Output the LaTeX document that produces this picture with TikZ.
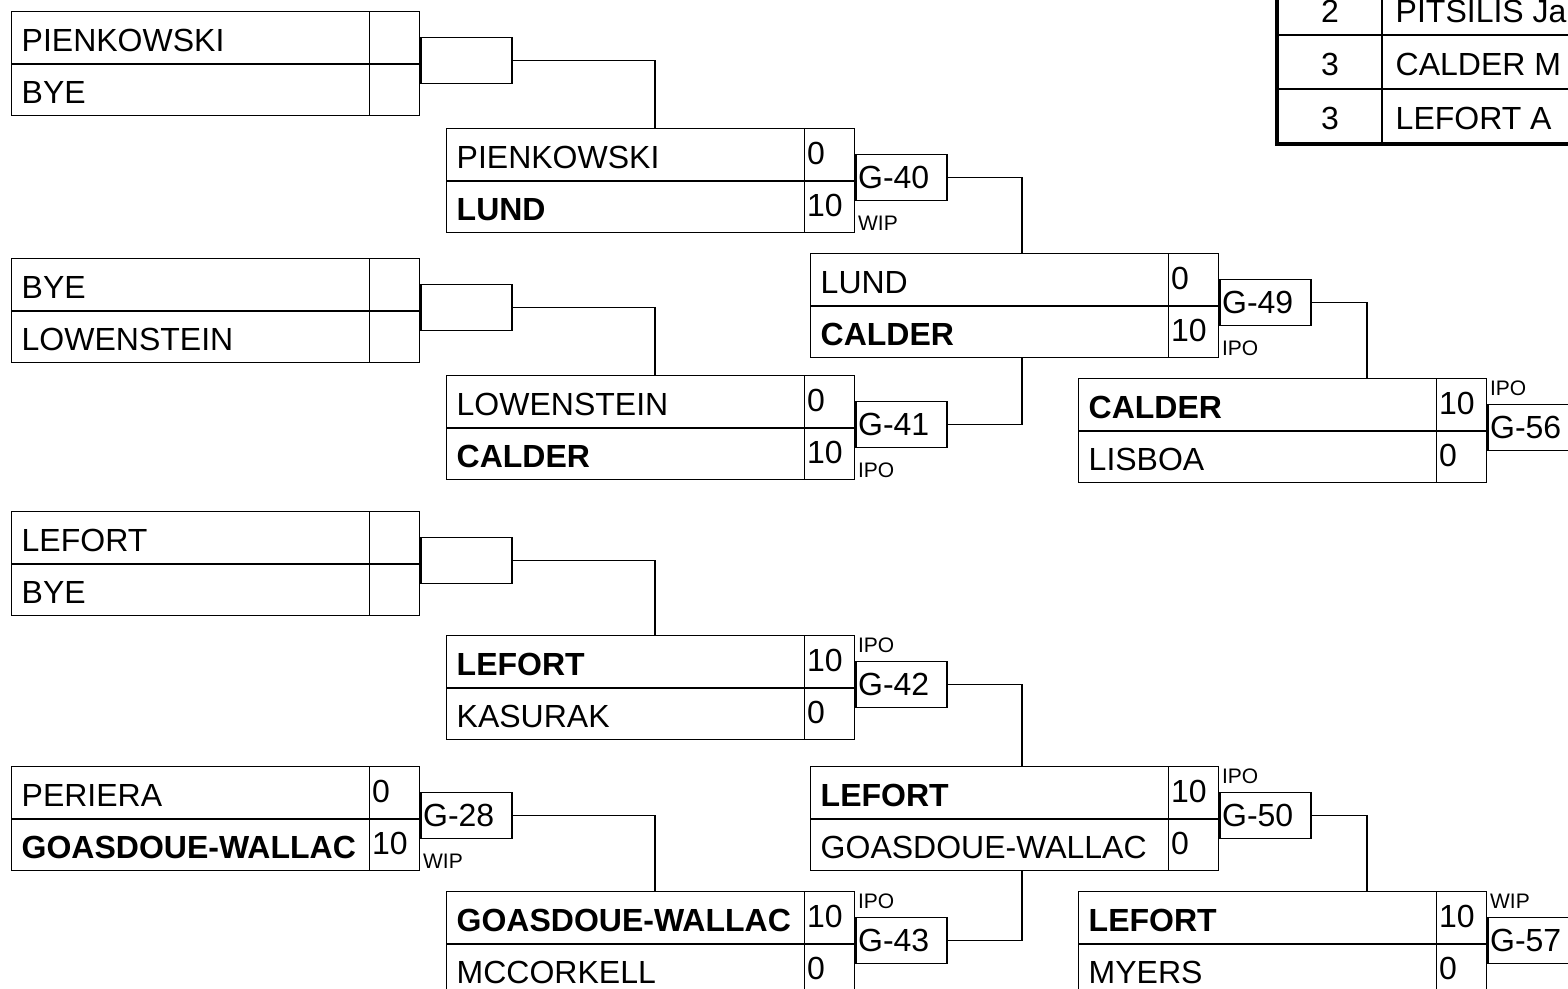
\documentclass[tikz,border=0pt]{standalone}
\usepackage{fontspec}
\setmainfont{Liberation Sans}
\usetikzlibrary{positioning}

% caixa de uma partida: nome, canto, jogador 1, pontos 1, jogador 2, pontos 2
\newcommand{\partida}[6]{%
	\node [matchbox] (#1) at (#2) {};
	\draw [line width=2pt] (#1.west) -- (#1.east);
	\draw ([xshift=-51pt]#1.north east) -- ([xshift=-51pt]#1.south east);
	\node [player] (#1-p1) at ([shift={(10,40)}]#1.north west) {#3};
	\node [points] (#1-s1) at ([shift={(-49,36)}]#1.north east) {#4};
	\node [player] (#1-p2) at ([shift={(10,92)}]#1.north west) {#5};
	\node [points] (#1-s2) at ([shift={(-49,88)}]#1.north east) {#6};
}

\begin{document}
\begin{tikzpicture}[x=1pt, y=-1pt, line width=1.4pt,
	matchbox/.style={draw, anchor=north west, minimum width=408pt, minimum height=104pt, inner sep=0pt},
	gamebox/.style={draw, anchor=north west, text width=87pt, minimum height=46pt, inner xsep=2pt, inner ysep=0pt, align=left, font=\fontsize{32}{38}\selectfont},
	player/.style={anchor=base west, inner sep=0pt, font=\fontsize{32}{38}\selectfont},
	points/.style={player},
	note/.style={anchor=base west, inner sep=0pt, font=\fontsize{21}{24}\selectfont},
	cell/.style={anchor=base, inner sep=0pt, font=\fontsize{32}{38}\selectfont}]
	\path [fill=white] (0,0) rectangle (1568,988);
	\useasboundingbox (0,0) rectangle (1568,988);
	
	% primeira rodada
	\partida{ma}{11,11}{PIENKOWSKI}{}{BYE}{}
	\partida{mb}{11,258}{BYE}{}{LOWENSTEIN}{}
	\partida{mc}{11,511}{LEFORT}{}{BYE}{}
	\partida{m28}{11,766}{PERIERA}{0}{\textbf{GOASDOUE-WALLAC}}{10}
	\node [gamebox] (ga) at ([shift={(0,26)}]ma.north east) {};
	\node [gamebox] (gb) at ([shift={(0,26)}]mb.north east) {};
	\node [gamebox] (gc) at ([shift={(0,26)}]mc.north east) {};
	\node [gamebox] (g28) at ([shift={(0,26)}]m28.north east) {G-28};
	\node [note] (t28) at ([shift={(2,102)}]m28.north east) {WIP};
	
	% segunda rodada
	\partida{m40}{446,128}{PIENKOWSKI}{0}{\textbf{LUND}}{10}
	\partida{m41}{446,375}{LOWENSTEIN}{0}{\textbf{CALDER}}{10}
	\partida{m42}{446,635}{\textbf{LEFORT}}{10}{KASURAK}{0}
	\partida{m43}{446,891}{\textbf{GOASDOUE-WALLAC}}{10}{MCCORKELL}{0}
	\node [gamebox] (g40) at ([shift={(0,26)}]m40.north east) {G-40};
	\node [gamebox] (g41) at ([shift={(0,26)}]m41.north east) {G-41};
	\node [gamebox] (g42) at ([shift={(0,26)}]m42.north east) {G-42};
	\node [gamebox] (g43) at ([shift={(0,26)}]m43.north east) {G-43};
	\node [note] (t40) at ([shift={(2,102)}]m40.north east) {WIP};
	\node [note] (t41) at ([shift={(2,102)}]m41.north east) {IPO};
	\node [note] (t42) at ([shift={(2,17)}]m42.north east) {IPO};
	\node [note] (t43) at ([shift={(2,17)}]m43.north east) {IPO};
	
	% terceira rodada
	\partida{m49}{810,253}{LUND}{0}{\textbf{CALDER}}{10}
	\partida{m50}{810,766}{\textbf{LEFORT}}{10}{GOASDOUE-WALLAC}{0}
	\node [gamebox] (g49) at ([shift={(0,26)}]m49.north east) {G-49};
	\node [gamebox] (g50) at ([shift={(0,26)}]m50.north east) {G-50};
	\node [note] (t49) at ([shift={(2,102)}]m49.north east) {IPO};
	\node [note] (t50) at ([shift={(2,17)}]m50.north east) {IPO};
	
	% quarta rodada
	\partida{m56}{1078,378}{\textbf{CALDER}}{10}{LISBOA}{0}
	\partida{m57}{1078,891}{\textbf{LEFORT}}{10}{MYERS}{0}
	\node [gamebox] (g56) at ([shift={(0,26)}]m56.north east) {G-56};
	\node [gamebox] (g57) at ([shift={(0,26)}]m57.north east) {G-57};
	\node [note] (t56) at ([shift={(2,17)}]m56.north east) {IPO};
	\node [note] (t57) at ([shift={(2,17)}]m57.north east) {WIP};
	
	% ligacoes
	\draw (ga.east) -| ([xshift=209pt]m40.north west);
	\draw (gb.east) -| ([xshift=209pt]m41.north west);
	\draw (gc.east) -| ([xshift=209pt]m42.north west);
	\draw (g28.east) -| ([xshift=209pt]m43.north west);
	\draw (g40.east) -| ([xshift=212pt]m49.north west);
	\draw (g41.east) -| ([xshift=212pt]m49.south west);
	\draw (g42.east) -| ([xshift=212pt]m50.north west);
	\draw (g43.east) -| ([xshift=212pt]m50.south west);
	\draw (g49.east) -| ([xshift=289pt]m56.north west);
	\draw (g50.east) -| ([xshift=289pt]m57.north west);
	
	% tabela de classificacao
	\draw [line width=3.5pt] (1277,-20) rectangle (1620,144);
	\draw [line width=2.5pt] (1382,-20) -- (1382,144);
	\draw [line width=2.5pt] (1277,35) -- (1620,35);
	\draw [line width=2.5pt] (1277,89) -- (1620,89);
	\node [cell] (r1) at (1330,22) {2};
	\node [cell] (r2) at (1330,75) {3};
	\node [cell] (r3) at (1330,129) {3};
	\node [player] (n1) at (1395,22) {PITSILIS Ja};
	\node [player] (n2) at (1395,75) {CALDER M};
	\node [player] (n3) at (1395,129) {LEFORT A};
\end{tikzpicture}
\end{document}
